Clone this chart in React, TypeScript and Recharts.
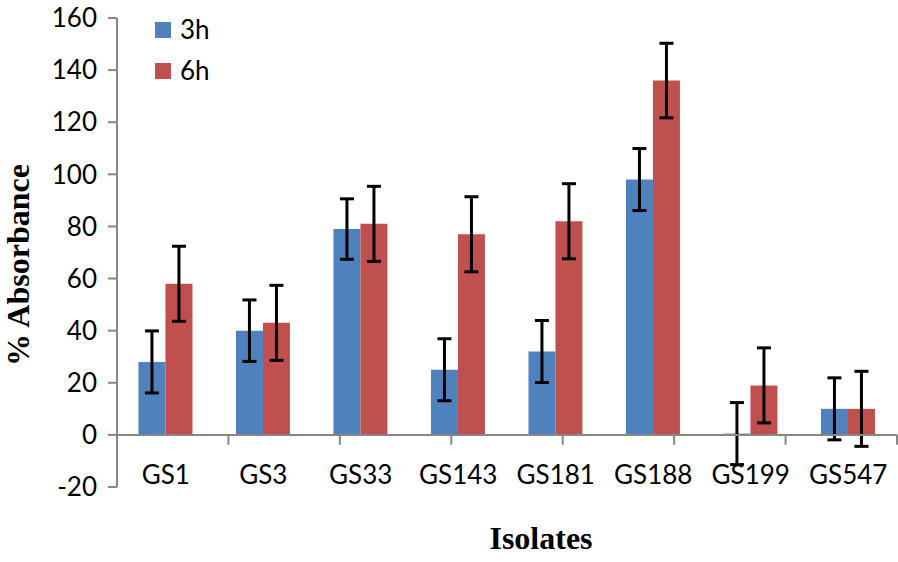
import React from "react";
import { BarChart, Bar, ErrorBar, XAxis, YAxis, ReferenceLine } from "recharts";

const isolates = ["GS1", "GS3", "GS33", "GS143", "GS181", "GS188", "GS199", "GS547"];
const abs3h = [28, 40, 79, 25, 32, 98, 0.5, 10];
const abs6h = [58, 43, 81, 77, 82, 136, 19, 10];
const err3h = [11.9, 11.8, 11.6, 11.9, 11.9, 11.9, 11.9, 11.9];
const err6h = [14.4, 14.4, 14.4, 14.4, 14.4, 14.3, 14.4, 14.4];
const yTicks = [-20, 0, 20, 40, 60, 80, 100, 120, 140, 160];

const BLUE = "#4F81BD";
const RED = "#C0504D";
const AXIS = "#878787";
const FONT = "Lato, 'Open Sans', sans-serif";

const data = isolates.map((name, i) => ({
  name,
  h3: abs3h[i],
  h6: abs6h[i],
  e3: err3h[i],
  e6: err6h[i],
}));

const boundaries = isolates.map((_, i) => i + 1);

function CategoryTick({ x, y, payload }: any) {
  return (
    <text x={x} y={y - 11} textAnchor="middle" fill="#000" fontSize={26} fontFamily={FONT}>
      {payload.value}
    </text>
  );
}

export default function App() {
  return (
    <div style={{ position: "absolute", left: 0, top: 0, width: 898, height: 562, background: "#fff" }}>
      <BarChart
        width={898}
        height={562}
        data={data}
        margin={{ top: 18, right: 1, left: 0, bottom: 45 }}
        barCategoryGap="22%"
        barGap={0}
      >
        <XAxis
          dataKey="name"
          axisLine={false}
          tickLine={false}
          height={30}
          tick={<CategoryTick />}
          interval={0}
        />
        <XAxis xAxisId="b" type="number" domain={[0, 8]} hide />
        <YAxis
          domain={[-20, 160]}
          ticks={yTicks}
          width={117}
          stroke={AXIS}
          strokeWidth={2}
          tickSize={9}
          tickMargin={11}
          tick={{ fill: "#000", fontSize: 26, fontFamily: FONT }}
          interval={0}
        />
        <Bar dataKey="h3" name="3h" fill={BLUE} isAnimationActive={false}>
          <ErrorBar dataKey="e3" stroke="#000" strokeWidth={3} width={7} />
        </Bar>
        <Bar dataKey="h6" name="6h" fill={RED} isAnimationActive={false}>
          <ErrorBar dataKey="e6" stroke="#000" strokeWidth={3} width={7} />
        </Bar>
        <ReferenceLine y={0} stroke={AXIS} strokeWidth={2} ifOverflow="visible" />
        {boundaries.map((b) => (
          <ReferenceLine
            key={b}
            xAxisId="b"
            segment={[{ x: b, y: 0 }, { x: b, y: -3.8 }]}
            stroke={AXIS}
            strokeWidth={2}
            ifOverflow="visible"
          />
        ))}
      </BarChart>
      <div style={{ position: "absolute", left: 155, top: 9, fontFamily: FONT, fontSize: 26, lineHeight: "41px" }}>
        {[{ label: "3h", color: BLUE }, { label: "6h", color: RED }].map((it) => (
          <div key={it.label} style={{ display: "flex", alignItems: "center", height: 41 }}>
            <span style={{ display: "inline-block", width: 16, height: 16, background: it.color, marginRight: 9 }} />
            <span>{it.label}</span>
          </div>
        ))}
      </div>
      <div
        style={{
          position: "absolute",
          left: 18,
          top: 265,
          transform: "translate(-50%, -50%) rotate(-90deg)",
          fontFamily: "'Liberation Serif', 'Times New Roman', serif",
          fontWeight: "bold",
          fontSize: 32,
          whiteSpace: "nowrap",
        }}
      >
        % Absorbance
      </div>
      <div
        style={{
          position: "absolute",
          left: 541,
          top: 538,
          transform: "translate(-50%, -50%)",
          fontFamily: "'Liberation Serif', 'Times New Roman', serif",
          fontWeight: "bold",
          fontSize: 32,
          whiteSpace: "nowrap",
        }}
      >
        Isolates
      </div>
    </div>
  );
}
